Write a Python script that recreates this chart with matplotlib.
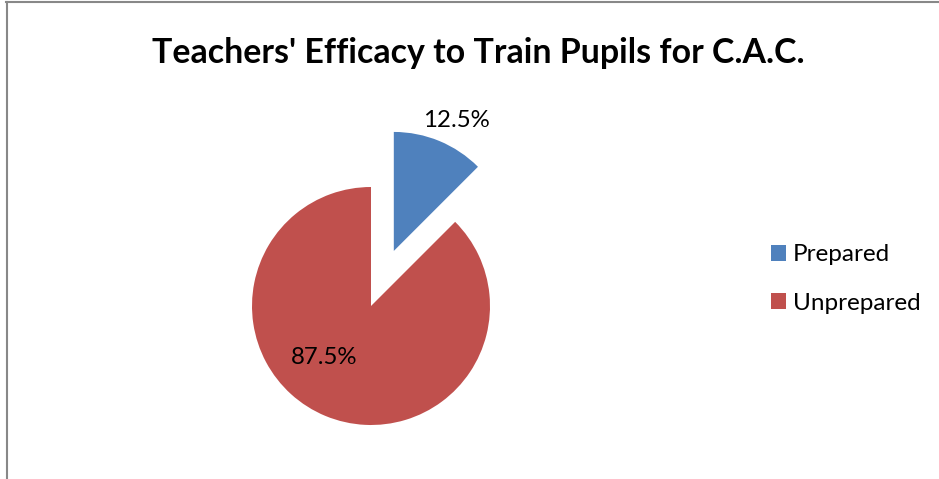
import matplotlib
matplotlib.use("Agg")
import matplotlib.pyplot as plt
from matplotlib.patches import Patch
from matplotlib.lines import Line2D

plt.rcParams['font.family'] = ['Lato', 'DejaVu Sans']

# data
categorias = ["Prepared", "Unprepared"]
porcentajes = [12.5, 87.5]
colores = ["#4F81BD", "#C0504D"]
titulo = "Teachers' Efficacy to Train Pupils for C.A.C."

W, H = 939, 479
fig = plt.figure(figsize=(W / 100, H / 100), dpi=100)
ax = fig.add_axes([0, 0, 1, 1])

# pie in pixel coords (y measured from bottom)
cx, cy, r = 371, H - 306, 119
ax.pie(porcentajes, colors=colores, startangle=90, counterclock=False,
       center=(cx, cy), radius=r, explode=[59.6, 0],
       wedgeprops=dict(linewidth=0), frame=True)
ax.set_xlim(0, W)
ax.set_ylim(0, H)
ax.set_aspect('equal')
ax.axis('off')

# etiquetas de porcentaje
pos_etiquetas = [(456, H - 120), (324, H - 357)]
for p, (x, y) in zip(porcentajes, pos_etiquetas):
    ax.text(x, y, f"{p}%", ha='center', va='center', fontsize=17.3)

fig.text(478 / W, 1 - 53 / H, titulo, ha='center', va='center',
         fontsize=24.4, fontweight='bold')

handles = [Patch(facecolor=c, edgecolor='none') for c in colores]
fig.legend(handles, categorias, loc='center left',
           bbox_to_anchor=(771 / W, 1 - 279 / H), frameon=False,
           fontsize=17.5, handlelength=0.62, handleheight=0.62,
           handletextpad=0.29, labelspacing=1.12, borderpad=0,
           borderaxespad=0)

# borde del grafico
fig.add_artist(Line2D([6.5 / W, 6.5 / W], [0, 1 - 2 / H], color='#888888', lw=1.5))
fig.add_artist(Line2D([6 / W, 1], [1 - 2 / H, 1 - 2 / H], color='#888888', lw=1.5))

plt.savefig("out.png", dpi=100)
